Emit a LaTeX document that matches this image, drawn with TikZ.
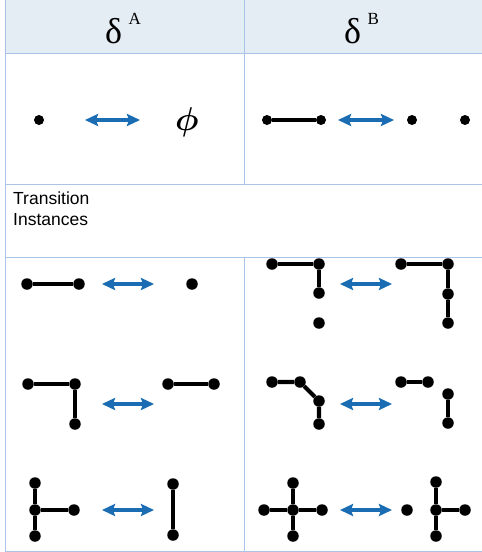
\documentclass[tikz,border=0pt]{standalone}
\usepackage{fontspec}
\setmainfont{Liberation Serif}
\newfontfamily\labelfont{Liberation Sans}
\usetikzlibrary{arrows.meta}
\definecolor{gridline}{HTML}{A9C4E6}
\definecolor{headfill}{HTML}{E4ECF4}
\definecolor{arrowblue}{HTML}{1B6DB3}
\tikzset{
  grid/.style={draw=gridline, line width=0.9pt},
  vtx/.style={circle, fill=black, inner sep=0pt, minimum size=11.5pt},
  smallvtx/.style={circle, fill=black, inner sep=0pt, minimum size=10pt},
  bond/.style={line width=4.2pt},
  thinbond/.style={line width=3.2pt},
  swap/.style={arrowblue, line width=3.4pt,
    {Stealth[length=13pt,width=12pt,inset=2pt]}-{Stealth[length=13pt,width=12pt,inset=2pt]}},
  head/.style={font=\fontsize{36}{36}\selectfont, inner sep=0pt, anchor=base},
  sup/.style={font=\fontsize{17}{17}\selectfont, inner sep=0pt, anchor=base west},
  lbl/.style={font=\labelfont\fontsize{17.5}{20}\selectfont, inner sep=0pt, anchor=base west},
}
\begin{document}
\begin{tikzpicture}[x=1pt, y=-1pt]
\useasboundingbox (0,0) rectangle (482,552);

% table frame
\fill[headfill] (5,0) rectangle (482,53);
\draw[grid] (5,0) -- (5,551) -- (482,551);
\draw[grid] (5,53) -- (482,53);
\draw[grid] (5,184) -- (482,184);
\draw[grid] (5,257) -- (482,257);
\draw[grid] (244,0) -- (244,184);
\draw[grid] (244,257) -- (244,551);

% column headers
\node[head] (hA) at (113.5,43) {δ};
\node[sup] (hAs) at (128.5,24.5) {A};
\node[head] (hB) at (352.5,43) {δ};
\node[sup] (hBs) at (367.5,24.5) {B};

% first row
\node[smallvtx] (p0) at (39,120) {};
\coordinate (sa1) at (85,120); \coordinate (sa2) at (140,120);
\draw[swap] (sa1) -- (sa2);
\node[inner sep=0pt] (empty) at (187,122) {\scalebox{3.3}{\boldmath$\phi$}};

\node[smallvtx] (q1) at (267,120) {};
\node[smallvtx] (q2) at (321,120) {};
\draw[thinbond] (q1) -- (q2);
\coordinate (sb1) at (338,120); \coordinate (sb2) at (394,120);
\draw[swap] (sb1) -- (sb2);
\node[smallvtx] (q3) at (412,120) {};
\node[smallvtx] (q4) at (465,120) {};

% merged row label
\node[lbl] (t1) at (13,204) {Transition};
\node[lbl] (t2) at (13,225) {Instances};

% ---- left column instances ----
% segment <-> point
\node[vtx] (a1) at (27,284) {};
\node[vtx] (a2) at (79,284) {};
\draw[bond] (a1) -- (a2);
\coordinate (la1) at (102,284); \coordinate (la2) at (154,284);
\draw[swap] (la1) -- (la2);
\node[vtx] (a3) at (192,284) {};

% corner <-> segment
\node[vtx] (b1) at (28,384) {};
\node[vtx] (b2) at (75,384) {};
\node[vtx] (b3) at (75,424) {};
\draw[bond] (b1) -- (b2) -- (b3);
\coordinate (lb1) at (102,404); \coordinate (lb2) at (154,404);
\draw[swap] (lb1) -- (lb2);
\node[vtx] (b4) at (168,384) {};
\node[vtx] (b5) at (214,384) {};
\draw[bond] (b4) -- (b5);

% T-junction <-> vertical segment
\node[vtx] (c1) at (35,483) {};
\node[vtx] (c2) at (35,510) {};
\node[vtx] (c3) at (35,536) {};
\node[vtx] (c4) at (74,510) {};
\draw[bond] (c1) -- (c2) -- (c3);
\draw[bond] (c2) -- (c4);
\coordinate (lc1) at (102,510); \coordinate (lc2) at (154,510);
\draw[swap] (lc1) -- (lc2);
\node[vtx] (c5) at (173,484) {};
\node[vtx] (c6) at (173,535) {};
\draw[bond] (c5) -- (c6);

% ---- right column instances ----
% corner plus point <-> longer corner
\node[vtx] (d1) at (272,264) {};
\node[vtx] (d2) at (319,264) {};
\node[vtx] (d3) at (319,293) {};
\node[vtx] (d4) at (319,323) {};
\draw[bond] (d1) -- (d2) -- (d3);
\coordinate (ra1) at (340,284); \coordinate (ra2) at (392,284);
\draw[swap] (ra1) -- (ra2);
\node[vtx] (d5) at (401,264) {};
\node[vtx] (d6) at (448,264) {};
\node[vtx] (d7) at (448,294) {};
\node[vtx] (d8) at (448,323) {};
\draw[bond] (d5) -- (d6) -- (d7) -- (d8);

% bent path <-> two segments
\node[vtx] (e1) at (272,382) {};
\node[vtx] (e2) at (300,382) {};
\node[vtx] (e3) at (319,401) {};
\node[vtx] (e4) at (319,424) {};
\draw[bond] (e1) -- (e2) -- (e3) -- (e4);
\coordinate (rb1) at (340,404); \coordinate (rb2) at (392,404);
\draw[swap] (rb1) -- (rb2);
\node[vtx] (e5) at (401,382) {};
\node[vtx] (e6) at (428,382) {};
\draw[bond] (e5) -- (e6);
\node[vtx] (e7) at (448,394) {};
\node[vtx] (e8) at (448,423) {};
\draw[bond] (e7) -- (e8);

% cross <-> point plus T-junction
\node[vtx] (f0) at (293,510) {};
\node[vtx] (f1) at (293,483) {};
\node[vtx] (f2) at (293,536) {};
\node[vtx] (f3) at (264,510) {};
\node[vtx] (f4) at (322,510) {};
\draw[bond] (f1) -- (f0) -- (f2);
\draw[bond] (f3) -- (f0) -- (f4);
\coordinate (rc1) at (340,510); \coordinate (rc2) at (392,510);
\draw[swap] (rc1) -- (rc2);
\node[vtx] (g0) at (407,510) {};
\node[vtx] (g1) at (436,510) {};
\node[vtx] (g2) at (436,482) {};
\node[vtx] (g3) at (436,536) {};
\node[vtx] (g4) at (465,510) {};
\draw[bond] (g2) -- (g1) -- (g3);
\draw[bond] (g1) -- (g4);
\end{tikzpicture}
\end{document}
